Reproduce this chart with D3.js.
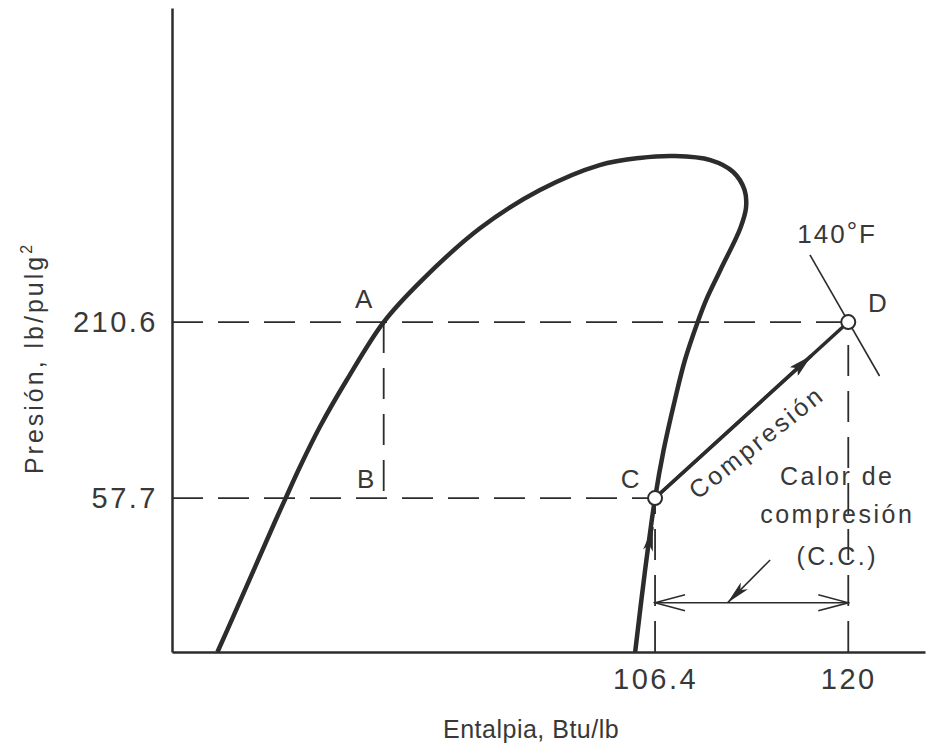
<!DOCTYPE html>
<html>
<head>
<meta charset="utf-8">
<script src="https://cdn.jsdelivr.net/npm/d3@7"></script>
<style>
  body { margin: 0; background: #fff; }
  svg text { font-family: "Liberation Sans", Arial, sans-serif; fill: #383838; }
</style>
</head>
<body>
<div id="chart"></div>
<script>
// axis values shown on the figure
const hTicks = [106.4, 120];
const pTicks = [57.7, 210.6];

// saturation dome (enthalpy Btu/lb, pressure lb/pulg2)
const domeH = [75.6, 76.6, 79.7, 80.4, 81.4, 82.8, 84.7, 87.3, 90.0, 94.1, 98.3, 102.5, 105.3, 107.8,
               110.3, 111.9, 112.7, 112.8, 112.4, 111.0, 110.0, 109.4, 108.5, 107.8, 107.0, 106.4, 105.7, 105.0];
const domeP = [18.6, 23.5, 49.1, 57.7, 72.5, 97.3, 137.5, 210.6, 286.8, 420.5, 556, 668, 704, 714,
               693, 635, 556, 487, 420, 309, 248, 210.6, 159, 119, 82, 57.7, 34, 18.6];

// cycle states
const stateNames = ['A', 'B', 'C', 'D'];
const stateH = [87.3, 87.3, 106.4, 120];
const stateP = [210.6, 57.7, 57.7, 210.6];

// 140 F isotherm through D
const isoH = [117.3, 122.2];
const isoP = [345, 141.6];

// "calor de compresion" dimension and leader
const ccLevel = 26.7;
const leaderH = [114.5, 111.5];
const leaderP = [36.6, 26.7];

// little arrow on the vapour line under C
const flowH = [105.98, 106.25];
const flowP = [40.8, 46.6];

const width = 929;
const height = 755;
const ink = '#2c2c2c';

const x = d3.scaleLinear().domain([72.4, 125.4]).range([172, 925]);
const y = d3.scaleLog().domain([18.6, 2121]).range([652, 8]);

const svg = d3.select('#chart')
              .append('svg')
              .attr('width', width)
              .attr('height', height);

const defs = svg.append('defs');
defs.append('marker')
    .attr('id', 'solid')
    .attr('markerUnits', 'userSpaceOnUse')
    .attr('viewBox', '0 -6 24 12')
    .attr('markerWidth', 24).attr('markerHeight', 12)
    .attr('refX', 24).attr('refY', 0)
    .attr('orient', 'auto')
    .append('path').attr('d', 'M0,-6L24,0L0,6L5,0Z').attr('fill', ink);
defs.append('marker')
    .attr('id', 'thin')
    .attr('markerUnits', 'userSpaceOnUse')
    .attr('viewBox', '0 -5 24 10')
    .attr('markerWidth', 24).attr('markerHeight', 10)
    .attr('refX', 24).attr('refY', 0)
    .attr('orient', 'auto')
    .append('path').attr('d', 'M0,-5L24,0L0,5L6,0Z').attr('fill', ink);
defs.append('marker')
    .attr('id', 'open')
    .attr('markerUnits', 'userSpaceOnUse')
    .attr('viewBox', '-31 -9 33 18')
    .attr('markerWidth', 33).attr('markerHeight', 18)
    .attr('refX', 0).attr('refY', 0)
    .attr('orient', 'auto-start-reverse')
    .append('path').attr('d', 'M-30,-8L0,0L-30,8')
    .attr('fill', 'none').attr('stroke', ink).attr('stroke-width', 1.5);

// axes
const xAxis = svg.append('g')
                 .attr('transform', `translate(0, ${y(18.6)})`)
                 .call(d3.axisBottom(x).tickValues(hTicks).tickSize(0).tickPadding(16).tickFormat(d => d));
const yAxis = svg.append('g')
                 .attr('transform', `translate(${x(72.4)}, 0)`)
                 .call(d3.axisLeft(y).tickValues(pTicks).tickSize(0).tickPadding(14).tickFormat(d => d));

[xAxis, yAxis].forEach(a => {
  a.select('.domain').attr('stroke', ink).attr('stroke-width', 2.5);
  a.selectAll('text')
   .style('font-size', '29px')
   .style('letter-spacing', '2.5px')
   .style('fill', '#383838');
});

// dashed guide lines
const guides = [
  [[72.4, 210.6], [120, 210.6]],
  [[72.4, 57.7], [106.4, 57.7]],
  [[stateH[0], stateP[0]], [stateH[1], stateP[1]]],
  [[106.4, 18.6], [106.4, 57.7]],
  [[120, 18.6], [120, 210.6]]
];
svg.selectAll('.guide')
   .data(guides).enter()
   .append('line')
   .attr('class', 'guide')
   .attr('x1', d => x(d[0][0])).attr('y1', d => y(d[0][1]))
   .attr('x2', d => x(d[1][0])).attr('y2', d => y(d[1][1]))
   .attr('stroke', ink)
   .attr('stroke-width', 1.8)
   .attr('stroke-dasharray', '31,15');

// saturation dome
const dome = domeH.map((h, i) => [h, domeP[i]]);
svg.append('path')
   .datum(dome)
   .attr('d', d3.line().x(d => x(d[0])).y(d => y(d[1])).curve(d3.curveCatmullRom.alpha(0.5)))
   .attr('fill', 'none')
   .attr('stroke', ink)
   .attr('stroke-width', 4.5)
   .attr('stroke-linejoin', 'round');

svg.append('line')
   .attr('x1', x(flowH[0])).attr('y1', y(flowP[0]))
   .attr('x2', x(flowH[1])).attr('y2', y(flowP[1]))
   .attr('stroke', ink).attr('stroke-width', 2)
   .attr('marker-end', 'url(#thin)');

// 140 F isotherm
svg.append('line')
   .attr('x1', x(isoH[0])).attr('y1', y(isoP[0]))
   .attr('x2', x(isoH[1])).attr('y2', y(isoP[1]))
   .attr('stroke', ink).attr('stroke-width', 1.6);

// compression C -> D
const cPt = [x(stateH[2]), y(stateP[2])];
const dPt = [x(stateH[3]), y(stateP[3])];
const tip = d3.interpolate(cPt, dPt)(0.81);
svg.append('line')
   .attr('x1', cPt[0]).attr('y1', cPt[1])
   .attr('x2', dPt[0]).attr('y2', dPt[1])
   .attr('stroke', ink).attr('stroke-width', 3.5);
svg.append('line')
   .attr('x1', cPt[0]).attr('y1', cPt[1])
   .attr('x2', tip[0]).attr('y2', tip[1])
   .attr('stroke', ink).attr('stroke-width', 3.5)
   .attr('marker-end', 'url(#solid)');

// heat of compression dimension
svg.append('line')
   .attr('x1', x(106.4)).attr('y1', y(ccLevel))
   .attr('x2', x(120)).attr('y2', y(ccLevel))
   .attr('stroke', ink).attr('stroke-width', 1.5)
   .attr('marker-start', 'url(#open)')
   .attr('marker-end', 'url(#open)');
svg.append('line')
   .attr('x1', x(leaderH[0])).attr('y1', y(leaderP[0]))
   .attr('x2', x(leaderH[1])).attr('y2', y(leaderP[1]))
   .attr('stroke', ink).attr('stroke-width', 1.5)
   .attr('marker-end', 'url(#thin)');

// state circles
svg.selectAll('.state')
   .data([2, 3]).enter()
   .append('circle')
   .attr('class', 'state')
   .attr('cx', i => x(stateH[i]))
   .attr('cy', i => y(stateP[i]))
   .attr('r', 7)
   .attr('fill', '#fff')
   .attr('stroke', ink)
   .attr('stroke-width', 2);

// state letters
const letterOffset = [[-20, -14], [-18, -10], [-25, -10], [29, -10]];
svg.selectAll('.letter')
   .data(stateNames).enter()
   .append('text')
   .attr('class', 'letter')
   .attr('x', (d, i) => x(stateH[i]) + letterOffset[i][0])
   .attr('y', (d, i) => y(stateP[i]) + letterOffset[i][1])
   .attr('text-anchor', 'middle')
   .style('font-size', '26px')
   .text(d => d);

const iso = svg.append('text')
               .attr('x', dPt[0] - 51)
               .attr('y', dPt[1] - 79)
               .style('font-size', '26px')
               .style('letter-spacing', '2px');
iso.append('tspan').text('140');
iso.append('tspan').attr('dy', -3).text('°');
iso.append('tspan').attr('dy', 3).text('F');

svg.append('text')
   .attr('transform', `translate(${cPt[0] + 107}, ${cPt[1] - 49}) rotate(-38.5)`)
   .attr('text-anchor', 'middle')
   .style('font-size', '25px')
   .style('letter-spacing', '3px')
   .text('Compresión');

const ccLines = ['Calor de', 'compresión', '(C.C.)'];
const ccBase = [485, 523, 565];
svg.selectAll('.cc')
   .data(ccLines).enter()
   .append('text')
   .attr('class', 'cc')
   .attr('x', x(120) - 11)
   .attr('y', (d, i) => ccBase[i])
   .attr('text-anchor', 'middle')
   .style('font-size', '25px')
   .style('letter-spacing', '2.5px')
   .text(d => d);

// axis titles
svg.append('text')
   .attr('x', 443)
   .attr('y', 738)
   .style('font-size', '25px')
   .style('letter-spacing', '0.5px')
   .text('Entalpia, Btu/lb');

const yTitle = svg.append('text')
                  .attr('transform', 'translate(43, 358) rotate(-90)')
                  .attr('text-anchor', 'middle')
                  .style('font-size', '25px')
                  .style('letter-spacing', '3px');
yTitle.append('tspan').text('Presión, lb/pulg');
yTitle.append('tspan').attr('dy', -11).style('font-size', '16px').text('2');
</script>
</body>
</html>
